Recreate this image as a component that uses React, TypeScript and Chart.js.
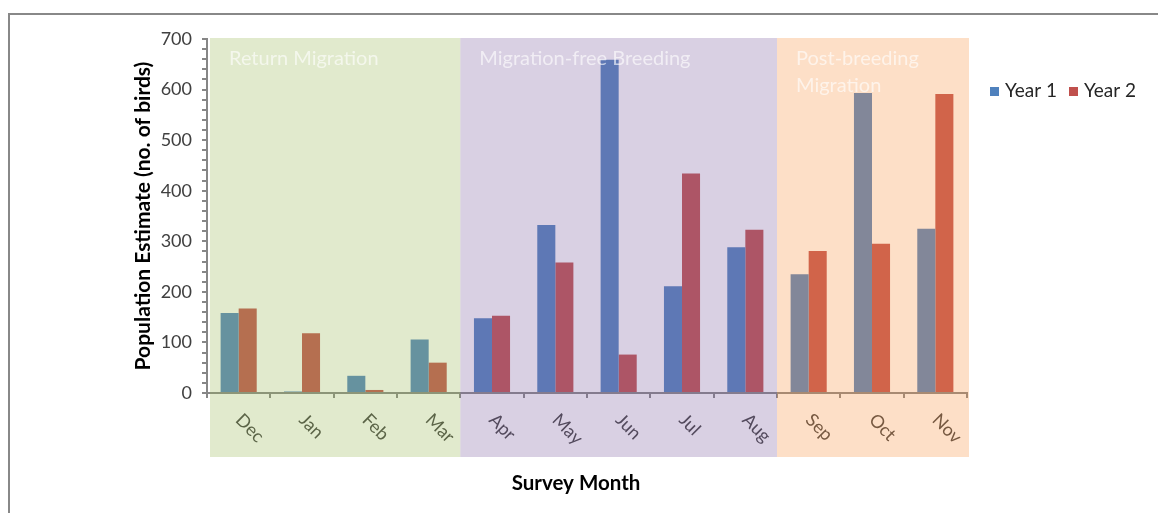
import React, { useEffect, useRef } from 'react';
import { Chart, registerables } from 'chart.js';

Chart.register(...registerables);

const months = ['Dec', 'Jan', 'Feb', 'Mar', 'Apr', 'May', 'Jun', 'Jul', 'Aug', 'Sep', 'Oct', 'Nov'];
const year1 = [158, 3, 34, 106, 148, 332, 659, 211, 288, 235, 593, 325];
const year2 = [167, 118, 6, 60, 153, 258, 76, 434, 323, 281, 295, 591];
const seriesLabels = ['Year 1', 'Year 2'];
const seriesColors = ['#4F81BD', '#C0504D'];

const yMin = 0;
const yMax = 700;
const yMajorStep = 100;
const yMinorStep = 20;

const regionLabels = [['Return Migration'], ['Migration-free Breeding'], ['Post-breeding', 'Migration']];
const regionFirst = ['Dec', 'Apr', 'Sep'];
const regionLast = ['Mar', 'Aug', 'Nov'];
const regionColors = ['rgba(155,187,89,0.3)', 'rgba(128,100,162,0.3)', 'rgba(247,150,70,0.3)'];

const xTitle = 'Survey Month';
const yTitle = 'Population Estimate (no. of birds)';

const FONT = 'Lato, "Open Sans", sans-serif';

const decorPlugin = {
  id: 'decor',
  beforeDraw(chart: any) {
    const ctx = chart.ctx;
    ctx.save();
    ctx.fillStyle = '#ffffff';
    ctx.fillRect(0, 0, chart.width, chart.height);
    ctx.restore();
  },
  afterDraw(chart: any) {
    const { ctx, chartArea } = chart;
    const x = chart.scales.x;
    const half = (x.getPixelForValue(1) - x.getPixelForValue(0)) / 2;

    // rotated month labels
    ctx.save();
    ctx.font = `18px ${FONT}`;
    ctx.fillStyle = '#404040';
    ctx.textAlign = 'left';
    ctx.textBaseline = 'middle';
    months.forEach((m, i) => {
      const px = x.getPixelForValue(i);
      ctx.save();
      ctx.translate(px, chartArea.bottom + 24);
      ctx.rotate(Math.PI / 4);
      ctx.fillText(m, 0, 0);
      ctx.restore();
    });
    ctx.restore();

    // translucent period overlays
    const top = chartArea.top - 1;
    const bottom = chartArea.bottom + 64;
    ctx.save();
    regionLabels.forEach((lines, i) => {
      const fi = months.indexOf(regionFirst[i]);
      const li = months.indexOf(regionLast[i]);
      let left = x.getPixelForValue(fi) - half;
      let right = x.getPixelForValue(li) + half;
      if (i === 0) left += 3;
      if (i === regionLabels.length - 1) right += 2;
      ctx.fillStyle = regionColors[i];
      ctx.fillRect(left, top, right - left, bottom - top);
      ctx.fillStyle = 'rgba(255,255,255,0.62)';
      ctx.font = `20px ${FONT}`;
      ctx.textAlign = 'left';
      ctx.textBaseline = 'alphabetic';
      lines.forEach((t, k) => {
        ctx.fillText(t, left + 19, chartArea.top + 26 + k * 27);
      });
    });
    ctx.restore();

    // legend
    ctx.save();
    ctx.font = `19px ${FONT}`;
    ctx.textAlign = 'left';
    ctx.textBaseline = 'alphabetic';
    let lx = 990;
    chart.data.datasets.forEach((ds: any) => {
      ctx.fillStyle = ds.backgroundColor;
      ctx.fillRect(lx, 87, 9, 9);
      ctx.fillStyle = '#262626';
      ctx.fillText(ds.label, lx + 15, 97);
      lx += 79;
    });
    ctx.restore();

    // axis titles
    ctx.save();
    ctx.fillStyle = '#000000';
    ctx.font = `bold 21px ${FONT}`;
    ctx.textAlign = 'center';
    ctx.textBaseline = 'middle';
    ctx.translate(143, (chartArea.top + chartArea.bottom) / 2);
    ctx.rotate(-Math.PI / 2);
    ctx.fillText(yTitle, 0, 0);
    ctx.restore();

    ctx.save();
    ctx.fillStyle = '#000000';
    ctx.font = `bold 20.5px ${FONT}`;
    ctx.textAlign = 'center';
    ctx.textBaseline = 'alphabetic';
    ctx.fillText(xTitle, (chartArea.left + chartArea.right) / 2 - 11, chartArea.bottom + 97);
    ctx.restore();

    // outer frame
    ctx.save();
    ctx.strokeStyle = '#888888';
    ctx.lineWidth = 2;
    ctx.strokeRect(9, 14, 1300, 700);
    ctx.restore();
  },
};

export default function App() {
  const ref = useRef<HTMLCanvasElement | null>(null);

  useEffect(() => {
    if (!ref.current) return;
    const chart = new Chart(ref.current, {
      type: 'bar',
      data: {
        labels: months,
        datasets: [
          { label: seriesLabels[0], data: year1, backgroundColor: seriesColors[0], borderWidth: 0 },
          { label: seriesLabels[1], data: year2, backgroundColor: seriesColors[1], borderWidth: 0 },
        ],
      },
      options: {
        animation: false,
        responsive: false,
        devicePixelRatio: 1,
        datasets: { bar: { categoryPercentage: 0.57, barPercentage: 1 } },
        layout: { padding: { left: 157, right: 191, top: 39, bottom: 120 } },
        plugins: { legend: { display: false }, tooltip: { enabled: false } },
        scales: {
          x: {
            type: 'category',
            offset: true,
            grid: { display: true, offset: true, drawOnChartArea: false, drawTicks: true, tickLength: 5, color: '#868686', lineWidth: 2 },
            border: { display: true, color: '#868686', width: 2 },
            ticks: { display: false },
            afterFit: (s: any) => { s.height = 0; },
          },
          y: {
            min: yMin,
            max: yMax,
            grid: { display: true, drawOnChartArea: false, drawTicks: true, tickLength: 5, color: '#868686', lineWidth: 2 },
            border: { display: true, color: '#868686', width: 2 },
            ticks: {
              stepSize: yMinorStep,
              autoSkip: false,
              padding: 10,
              color: '#404040',
              font: { family: FONT, size: 18 },
              callback: (v: any) => (Number(v) % yMajorStep === 0 ? String(v) : ''),
            },
            afterFit: (s: any) => { s.width = 50; },
          },
        },
      },
      plugins: [decorPlugin],
    } as any);
    return () => chart.destroy();
  }, []);

  return (
    <div style={{ position: 'absolute', left: 0, top: 0, width: 1158, height: 513, background: '#fff' }}>
      <canvas ref={ref} width={1158} height={513} style={{ display: 'block' }} />
    </div>
  );
}
